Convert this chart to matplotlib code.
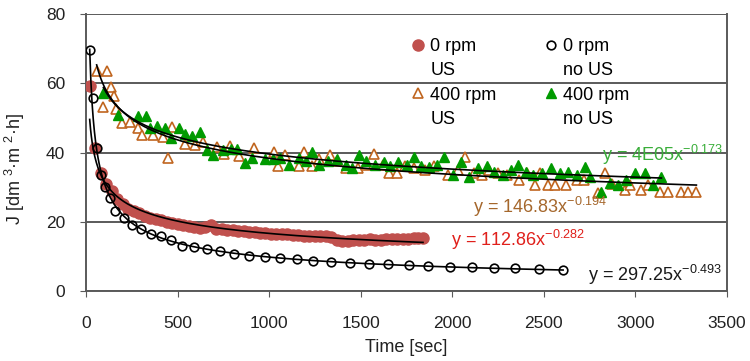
import matplotlib
matplotlib.use('Agg')
import matplotlib.pyplot as plt
from matplotlib.lines import Line2D
import numpy as np

plt.rcParams['font.family'] = ['Liberation Sans', 'DejaVu Sans']
plt.rcParams['mathtext.default'] = 'regular'

# 0 rpm, US (filled red circles)
t_0us = [20, 50, 80, 110, 140, 170, 200, 230, 260, 290, 320, 350, 380, 410, 440,
         470, 500, 530, 560, 590, 620, 650, 680, 710, 740, 770, 800, 830, 860, 890,
         920, 950, 980, 1010, 1040, 1070, 1100, 1130, 1160, 1190, 1220, 1250, 1280,
         1310, 1340, 1370, 1400, 1430, 1460, 1490, 1520, 1550, 1580, 1610, 1640,
         1670, 1700, 1730, 1760, 1790, 1815, 1840]
j_0us = [59.3, 41.4, 34.0, 31.0, 28.8, 26.5, 25.0, 23.8, 23.0, 22.4, 21.8, 21.2,
         20.8, 20.4, 20.0, 19.7, 19.4, 19.1, 18.8, 18.5, 18.3, 18.6, 19.0, 18.0,
         17.8, 17.6, 17.5, 17.3, 17.2, 17.0, 17.0, 16.8, 16.7, 16.6, 16.5, 16.6,
         16.4, 16.3, 16.2, 16.0, 16.0, 15.9, 15.8, 15.8, 15.5, 14.8, 14.3, 14.5,
         14.8, 14.7, 14.8, 14.9, 14.6, 14.8, 15.0, 14.9, 15.0, 15.1, 15.0, 15.2,
         15.3, 15.4]

# 0 rpm, no US (open black circles)
t_0nous = [20, 40, 60, 80, 105, 130, 160, 205, 250, 300, 355, 410, 465, 525, 590,
           660, 730, 810, 890, 975, 1060, 1150, 1240, 1335, 1440, 1545, 1650, 1765,
           1870, 1990, 2105, 2230, 2345, 2475, 2605]
j_0nous = [69.5, 55.6, 41.4, 33.5, 29.9, 26.8, 23.2, 21.0, 19.0, 17.8, 16.4, 15.9,
           14.7, 13.0, 12.8, 12.0, 11.5, 10.6, 10.2, 9.7, 9.4, 9.2, 8.8, 8.5, 8.2,
           7.9, 7.7, 7.4, 7.2, 7.0, 6.8, 6.6, 6.5, 6.3, 6.2]

# 400 rpm, US (open brown triangles)
t_400us = [58, 95, 113, 137, 155, 165, 199, 240, 286, 308, 368, 423, 450, 468, 541,
           596, 641, 714, 751, 787, 833, 915, 1024, 1051, 1088, 1161, 1188, 1234,
           1270, 1334, 1370, 1420, 1484, 1530, 1575, 1620, 1657, 1700, 1740, 1790,
           1850, 1900, 1975, 2030, 2067, 2120, 2160, 2200, 2250, 2300, 2367, 2410,
           2449, 2480, 2522, 2560, 2623, 2680, 2720, 2796, 2832, 2870, 2941, 2970,
           3033, 3070, 3133, 3178, 3251, 3288, 3333]
j_400us = [63.6, 53.0, 63.6, 59.0, 56.2, 52.5, 48.5, 48.9, 47.2, 45.1, 45.1, 44.6,
           38.5, 47.5, 42.4, 42.2, 43.0, 41.7, 39.5, 42.0, 39.1, 41.2, 40.2, 36.2,
           39.3, 36.2, 40.2, 36.2, 38.0, 39.3, 37.5, 35.5, 35.4, 36.5, 39.7, 36.5,
           34.0, 34.0, 36.0, 35.5, 35.0, 36.0, 33.5, 35.0, 38.8, 34.0, 33.5, 35.0,
           34.0, 33.5, 32.1, 34.0, 30.6, 34.0, 30.6, 30.6, 30.6, 32.0, 32.0, 28.2,
           34.0, 31.0, 29.2, 30.6, 29.2, 30.6, 28.7, 28.7, 28.7, 28.7, 28.7]

# 400 rpm, no US (filled green triangles)
t_400nous = [95, 177, 286, 326, 350, 386, 432, 465, 505, 541, 578, 623, 660, 696,
             746, 790, 824, 866, 906, 979, 1020, 1061, 1106, 1161, 1200, 1234, 1270,
             1320, 1370, 1420, 1450, 1493, 1530, 1580, 1629, 1660, 1702, 1750, 1793,
             1830, 1875, 1915, 1957, 2003, 2048, 2094, 2140, 2190, 2230, 2276, 2320,
             2358, 2400, 2440, 2490, 2541, 2590, 2632, 2680, 2723, 2750, 2814, 2860,
             2905, 2950, 2996, 3051, 3096, 3142]
j_400nous = [57.1, 50.7, 50.4, 50.4, 47.0, 47.7, 47.2, 44.3, 47.0, 45.3, 44.7, 45.9,
             40.8, 39.3, 40.8, 41.0, 41.0, 36.9, 38.5, 38.2, 38.0, 38.3, 36.5, 38.3,
             37.5, 40.2, 36.5, 37.5, 38.0, 36.5, 35.5, 39.3, 37.5, 36.5, 37.4, 36.0,
             37.4, 36.5, 38.8, 36.0, 35.9, 36.5, 38.7, 33.5, 37.4, 33.0, 35.5, 36.0,
             34.5, 33.5, 35.0, 36.4, 34.5, 33.5, 34.0, 35.5, 34.0, 34.5, 33.5, 35.9,
             33.0, 28.7, 31.1, 30.6, 32.0, 34.0, 34.0, 30.6, 33.0]


def power_fit(t, j):
    # same as an Excel power trendline: straight line in log-log space
    b, ln_a = np.polyfit(np.log(t), np.log(j), 1)
    x = np.linspace(min(t), max(t), 400)
    return x, np.exp(ln_a) * x ** b


fig = plt.figure(figsize=(7.5, 3.61), dpi=100)
ax = fig.add_axes([0.1147, 0.1939, 0.8546, 0.7673])

h_red, = ax.plot(t_0us, j_0us, 'o', color='#c0504d', ms=8, mec='#c0504d', zorder=3)
h_org, = ax.plot(t_400us, j_400us, '^', color='#c0651f', mfc='white', ms=7, mew=1.2,
                 zorder=3)
h_blk, = ax.plot(t_0nous, j_0nous, 'o', color='black', mfc='none', ms=6.2, mew=1.2,
                 zorder=4)
h_grn, = ax.plot(t_400nous, j_400nous, '^', color='#009a00', ms=7, zorder=3)

for t, j in [(t_0us, j_0us), (t_0nous, j_0nous), (t_400us, j_400us),
             (t_400nous, j_400nous)]:
    x, y = power_fit(t, j)
    ax.plot(x, y, color='black', lw=1.2, zorder=5)

ax.text(2740, 4.6, 'y = 297.25x$^{-0.493}$', color='#1a1a1a', fontsize=13, va='center')
ax.text(1994, 14.7, 'y = 112.86x$^{-0.282}$', color='#e0201b', fontsize=13, va='center')
ax.text(2112, 24.2, 'y = 146.83x$^{-0.194}$', color='#a5672c', fontsize=13, va='center')
ax.text(2820, 39.3, 'y = 4E05x$^{-0.173}$', color='#3aae3a', fontsize=13, va='center')

ax.set_xlim(0, 3500)
ax.set_ylim(0, 80)
ax.set_xticks(np.arange(0, 3501, 500))
ax.set_yticks(np.arange(0, 81, 20))
ax.yaxis.grid(True, color='#5a5a5a', lw=1.4)
ax.set_axisbelow(True)
for s in ['left', 'bottom', 'right']:
    ax.spines[s].set_color('#5a5a5a')
    ax.spines[s].set_linewidth(1.4)
ax.spines['top'].set_visible(False)
ax.tick_params(axis='both', direction='out', length=4, color='#5a5a5a',
               labelsize=12.5, labelcolor='#222222')
ax.tick_params(axis='x', pad=14)
ax.tick_params(axis='y', pad=11)

ax.set_xlabel('Time [sec]', fontsize=13, color='#222222', labelpad=6)
ax.set_ylabel('J [dm $^{3}$·m $^{2}$·h]', fontsize=13, color='#222222')
ax.yaxis.set_label_coords(-0.092, 0.44)

blank = Line2D([], [], ls='none')
handles = [h_red, blank, h_org, blank, h_blk, blank, h_grn, blank]
labels = ['0 rpm', 'US', '400 rpm', 'US', '0 rpm', 'no US', '400 rpm', 'no US']
ax.legend(handles, labels, ncol=2, frameon=False, fontsize=13, loc='upper left',
          bbox_to_anchor=(0.493, 0.945), borderpad=0, handletextpad=0.27,
          columnspacing=2.6, handlelength=0.8, labelspacing=0.4)

plt.savefig('out.png', dpi=100)
